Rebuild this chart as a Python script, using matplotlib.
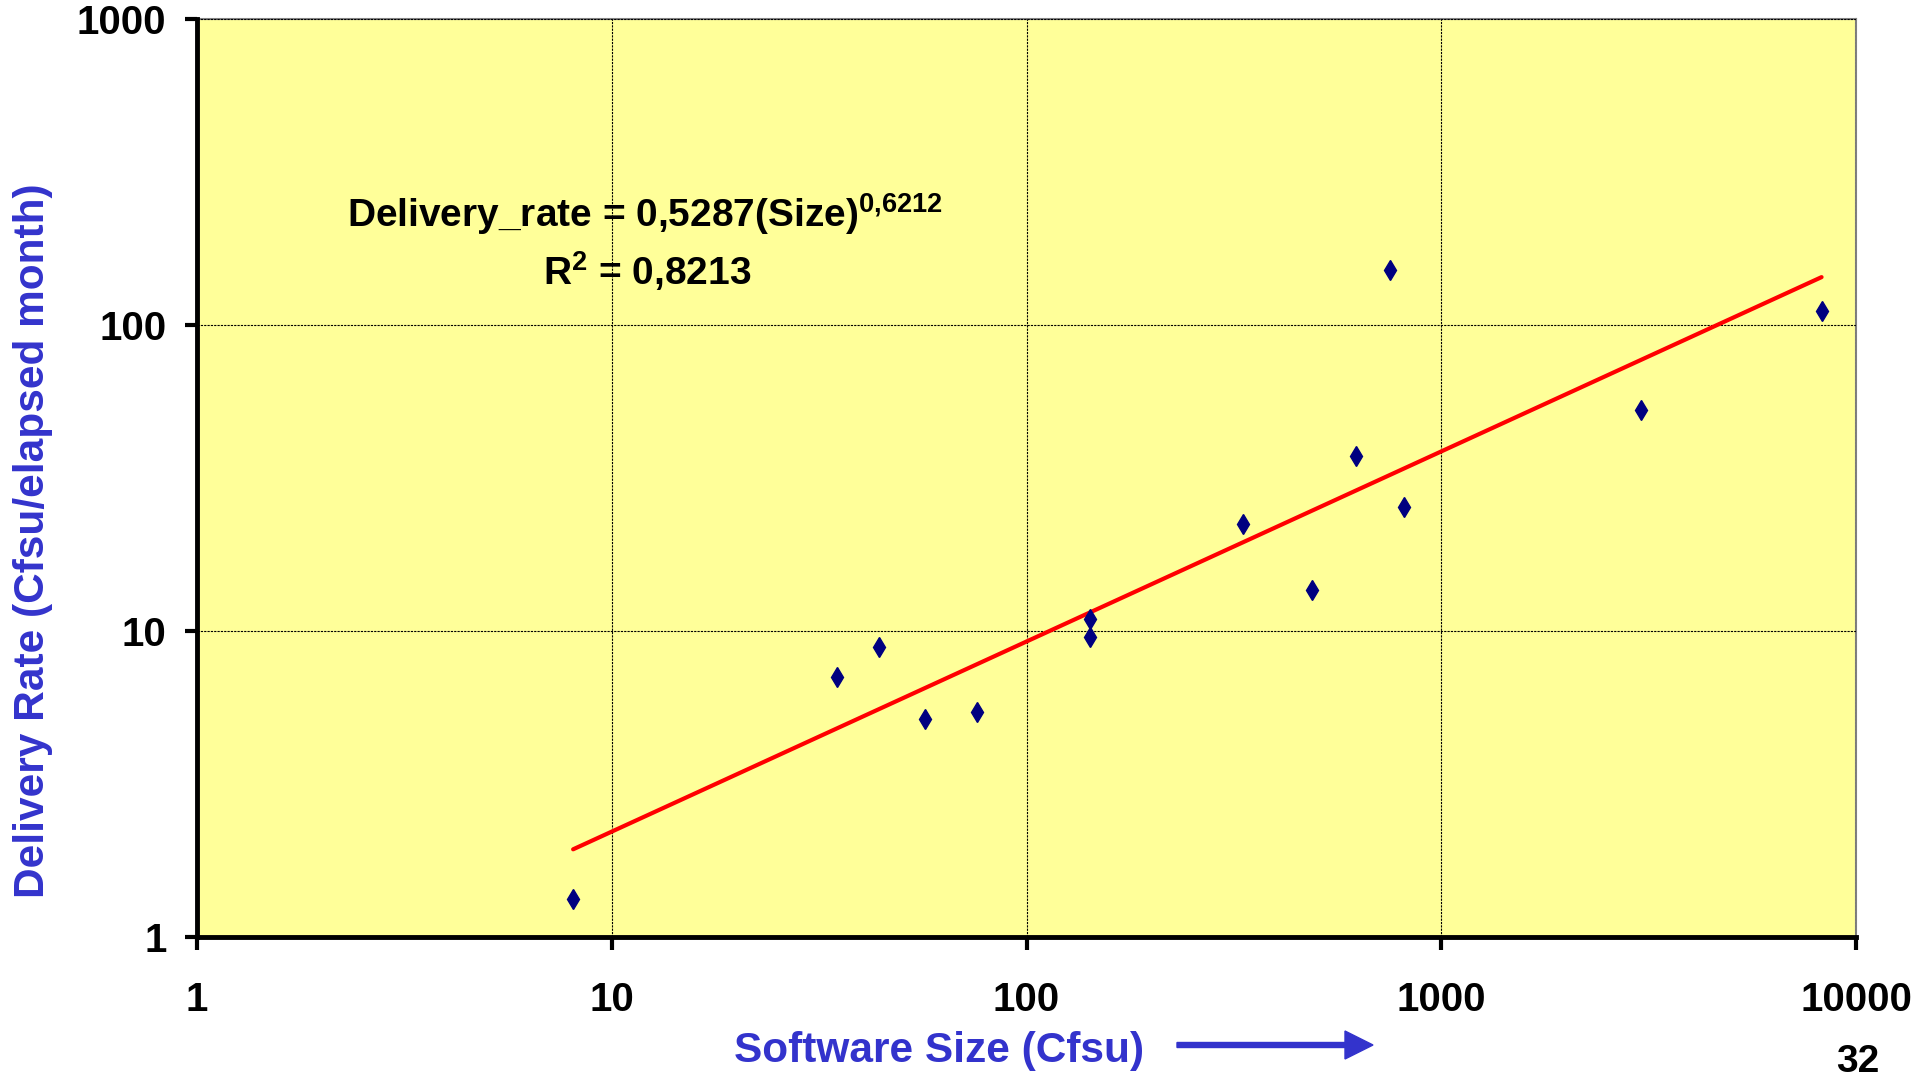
import numpy as np
import matplotlib
matplotlib.use("Agg")
import matplotlib.pyplot as plt

# ---- data ----
size_cfsu = [8.07, 35.0, 44.1, 56.8, 76.1, 142.6, 142.6, 332, 487, 622, 754, 812, 3030, 8260]
delivery_rate = [1.33, 7.1, 8.87, 5.14, 5.43, 10.97, 9.55, 22.4, 13.6, 37.2, 151.6, 25.4, 52.8, 110.7]
fit_coef = 0.5287
fit_exp = 0.6212
r_squared = "0,8213"
x_ticks = [1, 10, 100, 1000, 10000]
y_ticks = [1, 10, 100, 1000]

plt.rcParams['font.family'] = ['Liberation Sans', 'DejaVu Sans']
plt.rcParams['font.weight'] = 'bold'
plt.rcParams['mathtext.fontset'] = 'custom'
plt.rcParams['mathtext.rm'] = 'Liberation Sans:bold'
plt.rcParams['mathtext.bf'] = 'Liberation Sans:bold'
plt.rcParams['mathtext.it'] = 'Liberation Sans:bold'

W, H = 1927, 1078
fig = plt.figure(figsize=(W / 100, H / 100), dpi=100)
ax = fig.add_axes([197 / W, 1 - 937 / H, (1856 - 197) / W, (937 - 19) / H])
ax.set_facecolor('#FFFF99')

ax.set_xscale('log')
ax.set_yscale('log')
ax.set_xlim(1, 10000)
ax.set_ylim(1, 1000)

# trend line
xs = np.geomspace(min(size_cfsu), max(size_cfsu), 200)
ax.plot(xs, fit_coef * xs ** fit_exp, color='#FF0000', lw=3, zorder=3, solid_capstyle='round')

# data points
ax.plot(size_cfsu, delivery_rate, linestyle='none', marker='d', markersize=10,
        color='#000080', markeredgecolor='#000080', zorder=4)

ax.set_xticks(x_ticks)
ax.set_xticklabels([str(t) for t in x_ticks])
ax.set_yticks(y_ticks)
ax.set_yticklabels([str(t) for t in y_ticks])
ax.minorticks_off()
ax.tick_params(axis='both', which='major', direction='out', length=9, width=3,
               labelsize=29, color='black')
ax.tick_params(axis='x', pad=23)
ax.tick_params(axis='y', pad=13)
for lbl in ax.get_xticklabels() + ax.get_yticklabels():
    lbl.set_fontweight('bold')

ax.grid(True, which='major', color='black', linestyle=(0, (2, 1)), linewidth=0.8, zorder=2)
ax.set_axisbelow(False)

for s in ['top', 'right']:
    ax.spines[s].set_color('#808080')
    ax.spines[s].set_linewidth(1.5)
for s in ['left', 'bottom']:
    ax.spines[s].set_color('black')
    ax.spines[s].set_linewidth(3.5)
    ax.spines[s].set_zorder(5)

# equation text (behind grid)
ax.text(645 / W, 1 - 214 / H, r"Delivery_rate = 0,5287(Size)$^{0{,}6212}$",
        transform=fig.transFigure, ha='center', va='center', fontsize=28,
        fontweight='bold', color='black', zorder=1)
ax.text(647 / W, 1 - 271 / H, r"R$^{2}$ = " + r_squared,
        transform=fig.transFigure, ha='center', va='center', fontsize=28,
        fontweight='bold', color='black', zorder=1)

blue = '#3333CC'
fig.text(33 / W, 1 - 541 / H, "Delivery Rate (Cfsu/elapsed month)", rotation=90,
         ha='center', va='center', fontsize=30.5, fontweight='bold', color=blue)
fig.text(939 / W, 1 - 1051 / H, "Software Size (Cfsu)", ha='center', va='center',
         fontsize=30.5, fontweight='bold', color=blue)

fig.patches.append(matplotlib.patches.FancyArrow(
    1177 / W, 1 - 1045 / H, (1345 - 1177) / W, 0, width=5 / H,
    head_width=28 / H, head_length=28 / W, length_includes_head=False,
    transform=fig.transFigure, color=blue, figure=fig))

fig.text(1858 / W, 1 - 1062 / H, "32", ha='center', va='center', fontsize=28,
         fontweight='bold', color='black')

fig.savefig('out.png', dpi=100, facecolor='white')
